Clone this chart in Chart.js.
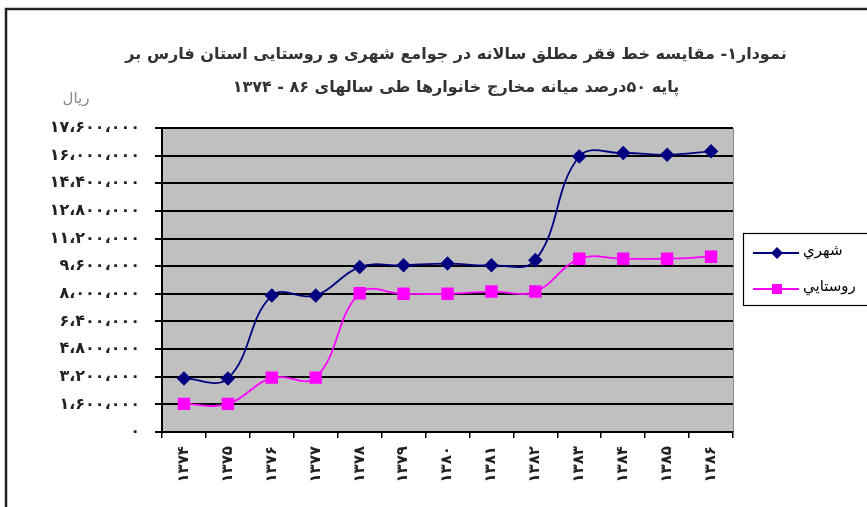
<!DOCTYPE html>
<html>
<head>
<meta charset="utf-8">
<script src="https://cdn.jsdelivr.net/npm/chart.js@4/dist/chart.umd.min.js"></script>
<style>
html,body{margin:0;padding:0;background:#fff;}
#c{display:block;}
</style>
</head>
<body>
<canvas id="c" width="867" height="507"></canvas>
<script>
const categories = ['۱۳۷۴','۱۳۷۵','۱۳۷۶','۱۳۷۷','۱۳۷۸','۱۳۷۹','۱۳۸۰','۱۳۸۱','۱۳۸۲','۱۳۸۳','۱۳۸۴','۱۳۸۵','۱۳۸۶'];
const urbanValues = [3100000, 3100000, 7900000, 7900000, 9550000, 9650000, 9750000, 9650000, 9950000, 15950000, 16150000, 16050000, 16250000];
const ruralValues = [1630000, 1630000, 3150000, 3150000, 8030000, 8000000, 8000000, 8130000, 8130000, 10030000, 10030000, 10030000, 10150000];
const yTickLabels = ['۰','۱،۶۰۰،۰۰۰','۳،۲۰۰،۰۰۰','۴،۸۰۰،۰۰۰','۶،۴۰۰،۰۰۰','۸،۰۰۰،۰۰۰','۹،۶۰۰،۰۰۰','۱۱،۲۰۰،۰۰۰','۱۲،۸۰۰،۰۰۰','۱۴،۴۰۰،۰۰۰','۱۶،۰۰۰،۰۰۰','۱۷،۶۰۰،۰۰۰'];
const seriesNames = ['شهري','روستايي'];
const titleLines = ['نمودار۱- مقایسه خط فقر مطلق سالانه در جوامع شهری و روستایی استان فارس بر','پایه ۵۰درصد میانه مخارج خانوارها طی سالهای ۸۶ - ۱۳۷۴'];
const unitLabel = 'ریال';

const URBAN = '#000080', RURAL = '#ff00ff';

const decor = {
  id: 'decor',
  beforeDraw(chart) {
    const {ctx, chartArea: a} = chart;
    ctx.save();
    ctx.fillStyle = '#c0c0c0';
    ctx.fillRect(a.left, a.top, a.right - a.left, a.bottom - a.top);
    ctx.strokeStyle = '#8a8a8a';
    ctx.lineWidth = 1;
    ctx.beginPath();
    ctx.moveTo(a.left, a.top + 0.5); ctx.lineTo(a.right + 0.5, a.top + 0.5); ctx.lineTo(a.right + 0.5, a.bottom);
    ctx.stroke();
    ctx.restore();
  },
  afterDraw(chart) {
    const {ctx} = chart;
    ctx.save();
    // outer frame
    ctx.strokeStyle = '#222';
    ctx.lineWidth = 2.5;
    ctx.beginPath();
    ctx.moveTo(6, 520); ctx.lineTo(6, 9); ctx.lineTo(880, 9);
    ctx.stroke();
    // title
    ctx.fillStyle = '#333';
    ctx.direction = 'rtl';
    ctx.textAlign = 'center';
    ctx.textBaseline = 'middle';
    ctx.font = 'bold 16px "DejaVu Sans"';
    ctx.fillText(titleLines[0], 456, 55);
    ctx.fillText(titleLines[1], 456, 88);
    // unit
    ctx.fillStyle = '#888';
    ctx.font = '15px "DejaVu Sans"';
    ctx.fillText(unitLabel, 76, 99);
    // legend
    const lx = 743, ly = 233, lw = 130, lh = 72;
    ctx.strokeStyle = '#000';
    ctx.lineWidth = 1.2;
    ctx.strokeRect(lx + 0.5, ly + 0.5, lw, lh);
    const rows = [{y: 253, c: URBAN, s: 'd'}, {y: 289, c: RURAL, s: 's'}];
    rows.forEach((r, i) => {
      ctx.strokeStyle = r.c; ctx.fillStyle = r.c; ctx.lineWidth = 2;
      ctx.beginPath(); ctx.moveTo(753, r.y); ctx.lineTo(799, r.y); ctx.stroke();
      ctx.beginPath();
      if (r.s === 'd') {
        ctx.moveTo(777, r.y - 6); ctx.lineTo(783, r.y); ctx.lineTo(777, r.y + 6); ctx.lineTo(771, r.y); ctx.closePath();
      } else {
        ctx.rect(772, r.y - 5, 10, 10);
      }
      ctx.fill();
      ctx.fillStyle = '#000';
      ctx.font = '15px "DejaVu Sans"';
      ctx.direction = 'rtl';
      ctx.textAlign = 'left';
      ctx.fillText(seriesNames[i], 803, r.y - 2);
    });
    ctx.restore();
  }
};

new Chart(document.getElementById('c'), {
  type: 'line',
  data: {
    labels: categories,
    datasets: [
      {label: seriesNames[0], data: urbanValues, borderColor: URBAN, backgroundColor: URBAN, borderWidth: 1.8,
       pointStyle: 'rectRot', pointRadius: 6, pointHoverRadius: 6, tension: 0.4},
      {label: seriesNames[1], data: ruralValues, borderColor: RURAL, backgroundColor: RURAL, borderWidth: 1.8,
       pointStyle: 'rect', pointRadius: 7.5, pointHoverRadius: 7.5, tension: 0.4}
    ]
  },
  options: {
    responsive: false,
    animation: false,
    events: [],
    layout: {padding: {left: 0, top: 128, right: 134, bottom: 0}},
    plugins: {legend: {display: false}, title: {display: false}, tooltip: {enabled: false}},
    scales: {
      x: {
        offset: true,
        afterFit(s) { s.height = 75; },
        grid: {offset: true, drawOnChartArea: false, drawTicks: true, tickLength: 6, color: '#000', lineWidth: 1.5},
        border: {display: true, color: '#000', width: 2},
        ticks: {minRotation: 90, maxRotation: 90, autoSkip: false, padding: 8, color: '#222',
                font: {family: 'DejaVu Sans', size: 15, weight: 'bold'}}
      },
      y: {
        min: 0, max: 17600000,
        afterFit(s) { s.width = 162; },
        afterBuildTicks(s) { s.ticks = yTickLabels.map((_, i) => ({value: i * 1600000})); },
        grid: {color: '#000', lineWidth: 2, tickLength: 7, drawTicks: true},
        border: {display: true, color: '#000', width: 2},
        ticks: {padding: 15, color: '#222', font: {family: 'DejaVu Sans', size: 16, weight: 'bold'},
                callback: (v, i) => yTickLabels[i]}
      }
    }
  },
  plugins: [decor]
});
</script>
</body>
</html>
